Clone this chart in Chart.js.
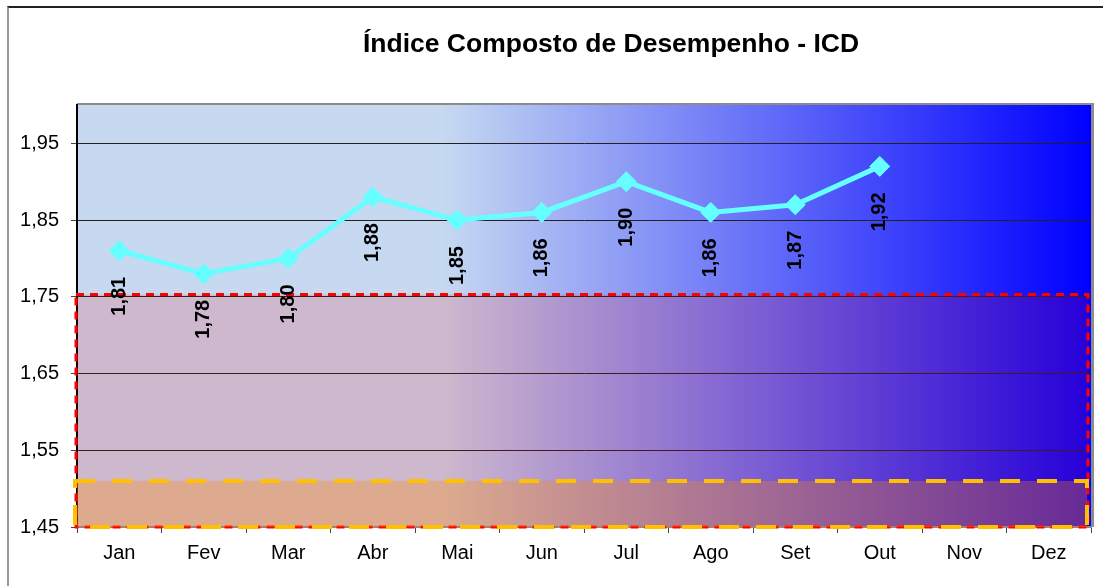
<!DOCTYPE html>
<html>
<head>
<meta charset="utf-8">
<script src="https://cdn.jsdelivr.net/npm/chart.js@4/dist/chart.umd.min.js"></script>
<style>
  body { margin: 0; background: #fff; overflow: hidden; }
  #wrap { position: relative; width: 1103px; height: 586px; }
  #frame { position: absolute; left: 7px; top: 6px; width: 1110px; height: 600px;
           border-top: 2px solid #222; border-left: 2px solid #9a9a9a; }
  canvas { position: absolute; left: 0; top: 0; }
</style>
</head>
<body>
<div id="wrap">
  <div id="frame"></div>
  <canvas id="icdChart" width="1103" height="586"></canvas>
</div>
<script>
// Data
let titleText = "Índice Composto de Desempenho - ICD";
let months = ["Jan", "Fev", "Mar", "Abr", "Mai", "Jun", "Jul", "Ago", "Set", "Out", "Nov", "Dez"];
let icdValues = [1.81, 1.78, 1.80, 1.88, 1.85, 1.86, 1.90, 1.86, 1.87, 1.92, null, null];
let yTicks = [1.45, 1.55, 1.65, 1.75, 1.85, 1.95];
let redBand = [1.45, 1.753];
let orangeBand = [1.45, 1.51];

let fmt = (v) => v.toFixed(2).replace(".", ",");

// Plot background gradient + frame + bands + labels + title
let plotDecor = {
  id: "plotDecor",
  beforeDraw(chart) {
    let { ctx, chartArea: a } = chart;
    let g = ctx.createLinearGradient(a.left, 0, a.right, 0);
    g.addColorStop(0, "#c6d9f1");
    g.addColorStop(0.36, "#c6d9f1");
    g.addColorStop(1, "#0000ff");
    ctx.save();
    ctx.fillStyle = g;
    ctx.fillRect(a.left, a.top, a.right - a.left, a.bottom - a.top);
    // frame: grey top, grey shadow right
    ctx.fillStyle = "#8c8c8c";
    ctx.fillRect(a.left, a.top - 2, a.right - a.left + 3, 2);
    ctx.fillRect(a.right, a.top - 2, 3, a.bottom - a.top + 2);
    // title (centred a bit right of the canvas, like the original)
    ctx.fillStyle = "#000";
    ctx.font = "bold 26.5px 'Liberation Sans', Arial, sans-serif";
    ctx.textAlign = "center";
    ctx.textBaseline = "middle";
    ctx.fillText(titleText, 611, 45);
    ctx.restore();
  },
  beforeDatasetsDraw(chart) {
    let { ctx, chartArea: a, scales } = chart;
    let y = scales.y;
    ctx.save();
    // red band
    let rTop = y.getPixelForValue(redBand[1]);
    let rBot = y.getPixelForValue(redBand[0]);
    ctx.fillStyle = "rgba(255,0,0,0.15)";
    ctx.fillRect(a.left, rTop, a.right - a.left - 3, rBot - rTop);
    ctx.strokeStyle = "#ff0000";
    ctx.lineWidth = 3;
    ctx.setLineDash([8, 6]);
    ctx.strokeRect(a.left - 1, rTop, a.right - a.left - 2, rBot - rTop);
    // orange band
    let oTop = y.getPixelForValue(orangeBand[1]);
    let oBot = y.getPixelForValue(orangeBand[0]);
    ctx.fillStyle = "rgba(255,140,0,0.3)";
    ctx.fillRect(a.left, oTop, a.right - a.left - 4, oBot - oTop);
    ctx.strokeStyle = "#ffc000";
    ctx.lineWidth = 4;
    ctx.setLineDash([20, 17]);
    ctx.strokeRect(a.left - 2, oTop, a.right - a.left - 2, oBot - oTop);
    ctx.restore();
  },
  afterDatasetsDraw(chart) {
    let { ctx } = chart;
    let meta = chart.getDatasetMeta(0);
    ctx.save();
    ctx.font = "bold 20px 'Liberation Sans', Arial, sans-serif";
    ctx.fillStyle = "#000";
    ctx.textAlign = "right";
    ctx.textBaseline = "middle";
    meta.data.forEach((pt, i) => {
      let v = icdValues[i];
      if (v == null) return;
      ctx.save();
      ctx.translate(pt.x, pt.y + 26);
      ctx.rotate(-Math.PI / 2);
      ctx.fillText(fmt(v), 0, 0);
      ctx.restore();
    });
    ctx.restore();
  },
};

let ctx = document.getElementById("icdChart").getContext("2d");
let icdChart = new Chart(ctx, {
  type: "line",
  data: {
    labels: months,
    datasets: [
      {
        label: "ICD",
        data: icdValues,
        borderColor: "#66ffff",
        backgroundColor: "#66ffff",
        borderWidth: 5,
        pointStyle: "rectRot",
        pointRadius: 10,
        pointBorderWidth: 1,
        tension: 0,
      },
    ],
  },
  options: {
    responsive: false,
    animation: false,
    layout: { padding: { left: 0, right: 12, top: 105, bottom: 0 } },
    plugins: {
      legend: { display: false },
      tooltip: { enabled: false },
      title: { display: false },
    },
    scales: {
      x: {
        offset: true,
        grid: {
          offset: true,
          drawOnChartArea: false,
          tickLength: 6,
          tickColor: "#444",
          tickWidth: 1,
        },
        border: { color: "#8c8c8c", width: 2 },
        ticks: {
          color: "#000",
          padding: 8,
          maxRotation: 0,
          font: { family: "'Liberation Sans', Arial, sans-serif", size: 20 },
        },
        afterFit(scale) {
          scale.height = 59;
        },
      },
      y: {
        min: 1.45,
        max: 2.0,
        afterBuildTicks(scale) {
          scale.ticks = yTicks.map((v) => ({ value: v }));
        },
        afterFit(scale) {
          scale.width = 77;
        },
        grid: {
          color: "#222",
          lineWidth: 1,
          tickLength: 6,
          tickColor: "#444",
        },
        border: { color: "#000", width: 2 },
        ticks: {
          color: "#000",
          padding: 12,
          callback: (v) => fmt(v),
          font: { family: "'Liberation Sans', Arial, sans-serif", size: 20 },
        },
      },
    },
  },
  plugins: [plotDecor],
});
</script>
</body>
</html>
